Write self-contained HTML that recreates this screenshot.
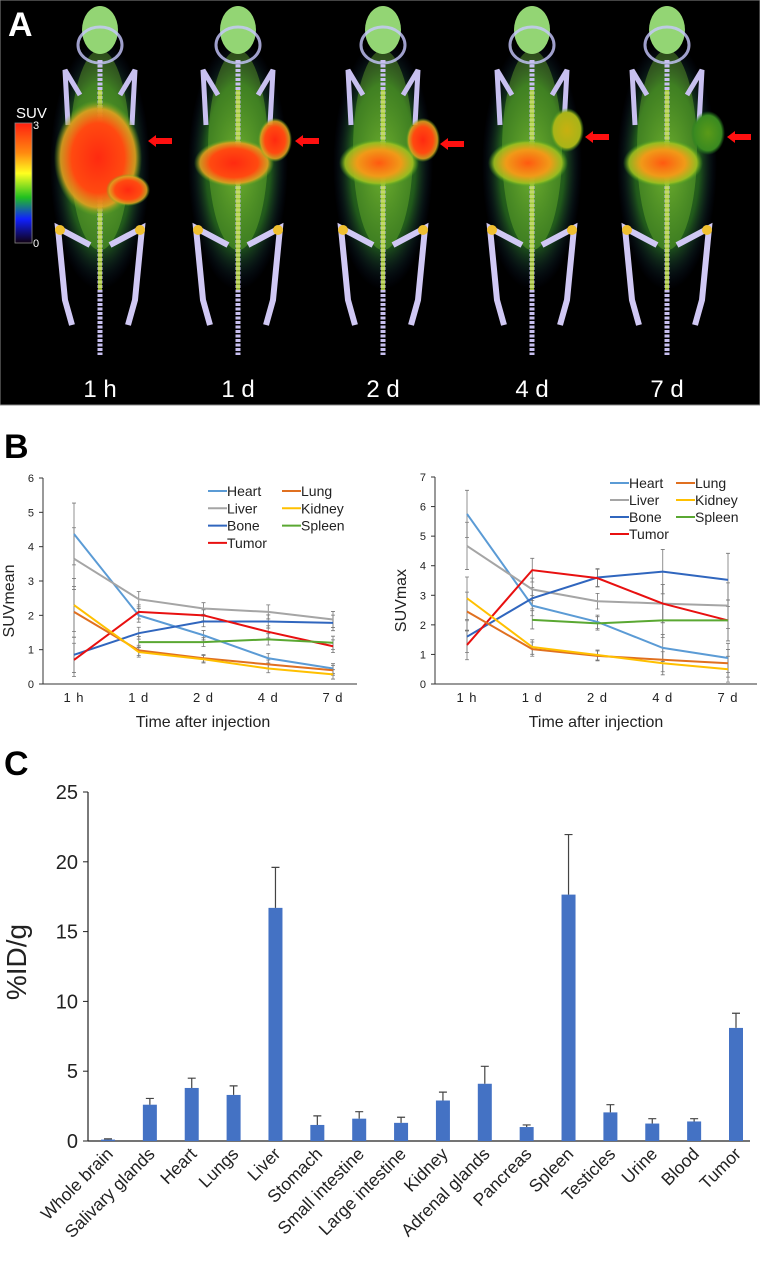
<!DOCTYPE html>
<html><head><meta charset="utf-8">
<style>
html,body{margin:0;padding:0;background:#fff;}
body{width:760px;height:1266px;overflow:hidden;font-family:"Liberation Sans",Arial,sans-serif;}
svg{display:block;}
</style></head>
<body>
<svg id="fig" width="760" height="1266" viewBox="0 0 760 1266" xmlns="http://www.w3.org/2000/svg">
<defs>
<radialGradient id="glow" cx="50%" cy="50%" r="50%"><stop offset="0" stop-color="#8fd83a" stop-opacity="0.95"/><stop offset="0.65" stop-color="#3aa030" stop-opacity="0.7"/><stop offset="1" stop-color="#10206a" stop-opacity="0"/></radialGradient>
<radialGradient id="hot" cx="50%" cy="50%" r="50%"><stop offset="0" stop-color="#ff2a10"/><stop offset="0.6" stop-color="#ff4a10"/><stop offset="0.85" stop-color="#e0a020" stop-opacity="0.9"/><stop offset="1" stop-color="#60b020" stop-opacity="0"/></radialGradient>
<radialGradient id="warm" cx="50%" cy="50%" r="50%"><stop offset="0" stop-color="#ff5a10"/><stop offset="0.55" stop-color="#f09a18"/><stop offset="0.85" stop-color="#a0c020" stop-opacity="0.9"/><stop offset="1" stop-color="#40a020" stop-opacity="0"/></radialGradient>
<radialGradient id="yel" cx="50%" cy="50%" r="50%"><stop offset="0" stop-color="#c8b010"/><stop offset="0.8" stop-color="#a8b418"/><stop offset="1" stop-color="#40a020" stop-opacity="0"/></radialGradient>
<radialGradient id="grn" cx="50%" cy="50%" r="50%"><stop offset="0" stop-color="#5a9a18"/><stop offset="0.8" stop-color="#3a8a20"/><stop offset="1" stop-color="#208020" stop-opacity="0"/></radialGradient>
<linearGradient id="cbar" x1="0" y1="0" x2="0" y2="1"><stop offset="0" stop-color="#ff2010"/><stop offset="0.25" stop-color="#ff8a10"/><stop offset="0.42" stop-color="#ffff20"/><stop offset="0.62" stop-color="#20c020"/><stop offset="0.8" stop-color="#1020ff"/><stop offset="1" stop-color="#100010"/></linearGradient>
</defs>
<g id="panelA">
<rect x="0" y="0" width="760" height="405" fill="#000" stroke="#888"/>
<g id="mice"></g>
<text x="8" y="36" font-size="34" font-weight="bold" fill="#fff">A</text>
<text x="16" y="118" font-size="15" fill="#fff">SUV</text>
<rect x="15" y="123" width="17" height="120" fill="url(#cbar)" stroke="#888" stroke-width="0.8"/>
<text x="33" y="129" font-size="11" fill="#fff">3</text>
<text x="33" y="247" font-size="11" fill="#fff">0</text>
</g>
<text x="4" y="458" font-size="34" font-weight="bold" fill="#000">B</text>
<g id="chartL"></g>
<g id="chartR"></g>
<text x="4" y="775" font-size="34" font-weight="bold" fill="#000">C</text>
<g id="chartC"></g>
</svg>
<script>
const NS="http://www.w3.org/2000/svg";
function mk(p,tag,a,txt){const e=document.createElementNS(NS,tag);for(const k in a)e.setAttribute(k,a[k]);if(txt!==undefined)e.textContent=txt;p.appendChild(e);return e;}

// ---- Panel A mice ----
const timeLabels=["1 h","1 d","2 d","4 d","7 d"];
const mouseX=[100,238,383,532,667];
const tumorState=["none","hot","hot","yel","grn"];
const mg=document.getElementById('mice');
mouseX.forEach((cx,i)=>{
  const g=mk(mg,'g',{});
  
  
  mk(g,'ellipse',{cx:cx,cy:165,rx:50,ry:125,fill:'url(#glow)',opacity:0.8});
  mk(g,'ellipse',{cx:cx,cy:150,rx:30,ry:100,fill:'#7ac830',opacity:0.35});
  mk(g,'ellipse',{cx:cx,cy:30,rx:18,ry:24,fill:'#9be07a',opacity:0.95});
  mk(g,'ellipse',{cx:cx,cy:45,rx:22,ry:18,fill:'none',stroke:'#c8c8ff',"stroke-width":3,opacity:0.8});
  mk(g,'line',{x1:cx,y1:60,x2:cx,y2:355,stroke:'#c8c0f0',"stroke-width":5,"stroke-dasharray":"3 1.5"});
  mk(g,'line',{x1:cx,y1:90,x2:cx,y2:290,stroke:'#c0e040',"stroke-width":4,opacity:0.75});
  mk(g,'path',{d:`M${cx-20},${95} L${cx-35},${70} L${cx-32},${125}`,fill:'none',stroke:'#c8c0f0',"stroke-width":5});
  mk(g,'path',{d:`M${cx+20},${95} L${cx+35},${70} L${cx+32},${125}`,fill:'none',stroke:'#c8c0f0',"stroke-width":5});
  mk(g,'path',{d:`M${cx-10},${245} L${cx-42},${228} L${cx-35},${300} L${cx-28},${325}`,fill:'none',stroke:'#d0c8f4',"stroke-width":6});
  mk(g,'path',{d:`M${cx+10},${245} L${cx+42},${228} L${cx+35},${300} L${cx+28},${325}`,fill:'none',stroke:'#d0c8f4',"stroke-width":6});
  mk(g,'circle',{cx:cx-40,cy:230,r:5,fill:'#f0c030'});
  mk(g,'circle',{cx:cx+40,cy:230,r:5,fill:'#f0c030'});
  if(i===0){
    mk(g,'ellipse',{cx:cx-2,cy:158,rx:44,ry:58,fill:'url(#hot)'});
    mk(g,'ellipse',{cx:cx+28,cy:190,rx:22,ry:16,fill:'url(#hot)'});
  }else{
    mk(g,'ellipse',{cx:cx-4,cy:163,rx:40,ry:24,fill:i===1?'url(#hot)':'url(#warm)'});
  }
  const tx=[0,275,423,567,708][i],ty=[0,140,140,130,133][i];
  if(tumorState[i]!=='none'){
    const f={hot:'url(#hot)',yel:'url(#yel)',grn:'url(#grn)'}[tumorState[i]];
    const tm=mk(g,'ellipse',{cx:tx,cy:ty,rx:17,ry:22,fill:f});
    
    
  }
  const ax=[160,307,452,597,739][i],ay=[141,141,144,137,137][i];
  const ar=mk(g,'path',{d:`M${ax-12},${ay} L${ax-4},${ay-6} L${ax-4},${ay-3} L${ax+12},${ay-3} L${ax+12},${ay+3} L${ax-4},${ay+3} L${ax-4},${ay+6} Z`,fill:'#ff1010'});
  
  
  const t=mk(g,'text',{x:cx,y:397,"font-size":24,fill:'#fff',"text-anchor":'middle'},timeLabels[i]);
  
  
});

// ---- Panel B data ----
const timepoints=["1 h","1 d","2 d","4 d","7 d"];
const seriesNames=["Heart","Liver","Bone","Tumor","Lung","Kidney","Spleen"];
const seriesColors=["#5b9bd5","#a5a5a5","#3066be","#e81010","#e07020","#ffc000","#5aa832"];
const meanHeart=[4.37,2.0,1.42,0.75,0.45];
const meanLiver=[3.65,2.47,2.2,2.1,1.88];
const meanBone=[0.85,1.48,1.82,1.82,1.78];
const meanTumor=[0.7,2.1,2.0,1.52,1.1];
const meanLung=[2.1,0.98,0.75,0.57,0.4];
const meanKidney=[2.3,0.93,0.72,0.45,0.28];
const meanSpleen=[null,1.22,1.22,1.3,1.2];
const meanErr=[0.9,0.25,0.2,0.25,0.3];
const maxHeart=[5.75,2.65,2.1,1.22,0.88];
const maxLiver=[4.67,3.2,2.8,2.72,2.65];
const maxBone=[1.6,2.9,3.6,3.8,3.52];
const maxTumor=[1.32,3.85,3.58,2.72,2.15];
const maxLung=[2.45,1.18,0.95,0.82,0.7];
const maxKidney=[2.9,1.25,0.98,0.7,0.5];
const maxSpleen=[null,2.17,2.05,2.15,2.15];
const maxErr=[0.8,0.4,0.3,0.75,0.9];
const meanTicks=[0,1,2,3,4,5,6];
const maxTicks=[0,1,2,3,4,5,6,7];

function lineChart(id,cfg){
  const g=document.getElementById(id);
  const yS=v=>cfg.y0-(v/cfg.ymax)*(cfg.y0-cfg.y1);
  const xS=i=>cfg.xs+i*(cfg.xe-cfg.xs)/(timepoints.length-1);
  mk(g,'line',{x1:cfg.ax,y1:cfg.y1,x2:cfg.ax,y2:cfg.y0,stroke:'#333',"stroke-width":1});
  mk(g,'line',{x1:cfg.ax,y1:cfg.y0,x2:cfg.aend,y2:cfg.y0,stroke:'#333',"stroke-width":1});
  cfg.ticks.forEach(t=>{
    const y=yS(t);
    mk(g,'line',{x1:cfg.ax-4,y1:y,x2:cfg.ax,y2:y,stroke:'#333'});
    const e=mk(g,'text',{x:cfg.ax-9,y:y+4,"font-size":11,"text-anchor":'end',fill:'#222'},t);
    
    
  });
  timepoints.forEach((t,i)=>{
    const e=mk(g,'text',{x:xS(i),y:cfg.y0+18,"font-size":13,"text-anchor":'middle',fill:'#222',"letter-spacing":1},t);
    
    
  });
  const xt=mk(g,'text',{x:cfg.tc,y:cfg.y0+43,"font-size":16,"text-anchor":'middle',fill:'#222'},'Time after injection');
  
  
  const cy=(cfg.y0+cfg.y1)/2+20;
  const yt=mk(g,'text',{x:cfg.yl,y:cy,"font-size":16,"text-anchor":'middle',fill:'#222',transform:`rotate(-90 ${cfg.yl} ${cy})`},cfg.ylabel);
  
  
  cfg.data.forEach((arr,si)=>{
    arr.forEach((v,i)=>{
      if(v===null)return;
      const e=cfg.err[i]*(0.4+0.6*Math.min(1,v/cfg.ymax*2));
      const x=xS(i);
      const eb=mk(g,'path',{d:`M${x},${yS(v-e)} V${yS(v+e)} M${x-2},${yS(v-e)} H${x+2} M${x-2},${yS(v+e)} H${x+2}`,stroke:'#777',"stroke-width":0.8,fill:'none'});
      
      
    });
  });
  cfg.data.forEach((arr,si)=>{
    let d='';
    arr.forEach((v,i)=>{if(v===null)return;d+=(d?'L':'M')+xS(i)+','+yS(v);});
    const p=mk(g,'path',{d:d,stroke:seriesColors[si],"stroke-width":2,fill:'none'});
    
    
  });
  const rowOf=[0,1,2,3,0,1,2];
  seriesNames.forEach((n,si)=>{
    const col=si<4?0:1,row=rowOf[si];
    const lx=cfg.lx[col],ly=cfg.ly+row*cfg.lrow;
    const lg=mk(g,'g',{});
    
    
    mk(lg,'line',{x1:lx,y1:ly,x2:lx+19,y2:ly,stroke:seriesColors[si],"stroke-width":2});
    mk(lg,'text',{x:lx+19,y:ly+5,"font-size":14,fill:'#222'},n);
  });
}
lineChart('chartL',{ax:43,aend:357,y0:684,y1:478,ymax:6,xs:74,xe:333,ticks:meanTicks,tc:203,yl:14,ylabel:'SUVmean',
  data:[meanHeart,meanLiver,meanBone,meanTumor,meanLung,meanKidney,meanSpleen],err:meanErr,lx:[208,282],ly:491,lrow:17.3});
lineChart('chartR',{ax:435,aend:757,y0:684,y1:477,ymax:7,xs:467,xe:728,ticks:maxTicks,tc:596,yl:406,ylabel:'SUVmax',
  data:[maxHeart,maxLiver,maxBone,maxTumor,maxLung,maxKidney,maxSpleen],err:maxErr,lx:[610,676],ly:483,lrow:17});

// ---- Panel C ----
const organs=["Whole brain","Salivary glands","Heart","Lungs","Liver","Stomach","Small intestine","Large intestine","Kidney","Adrenal glands","Pancreas","Spleen","Testicles","Urine","Blood","Tumor"];
const idValues=[0.1,2.6,3.8,3.3,16.7,1.15,1.6,1.3,2.9,4.1,1.0,17.65,2.05,1.25,1.4,8.1];
const idErrors=[0.05,0.45,0.7,0.65,2.9,0.65,0.5,0.4,0.6,1.25,0.15,4.3,0.55,0.35,0.2,1.05];
const idTicks=[0,5,10,15,20,25];
(function(){
  const g=document.getElementById('chartC');
  const ax=88,aend=750,y0=1141,y1=792,ymax=25;
  const yS=v=>y0-(v/ymax)*(y0-y1);
  const x0=108,step=(736-108)/(organs.length-1),bw=14;
  mk(g,'line',{x1:ax,y1:y1,x2:ax,y2:y0,stroke:'#222',"stroke-width":1.2});
  mk(g,'line',{x1:ax,y1:y0,x2:aend,y2:y0,stroke:'#222',"stroke-width":1.2});
  idTicks.forEach(t=>{
    const y=yS(t);
    mk(g,'line',{x1:ax-5,y1:y,x2:ax,y2:y,stroke:'#222'});
    const e=mk(g,'text',{x:ax-10,y:y+7,"font-size":20,"text-anchor":'end',fill:'#222'},t);
    
    
  });
  const yt=mk(g,'text',{x:26,y:962,"font-size":28,"text-anchor":'middle',fill:'#222',transform:'rotate(-90 26 962)'},'%ID/g');
  
  
  organs.forEach((o,i)=>{
    const cx=x0+i*step,v=idValues[i],e=idErrors[i];
    const r=mk(g,'rect',{x:cx-bw/2,y:yS(v),width:bw,height:y0-yS(v),fill:'#4472c4'});
    
    
    const eb=mk(g,'path',{d:`M${cx},${yS(v)} V${yS(v+e)} M${cx-4},${yS(v+e)} H${cx+4}`,stroke:'#444',"stroke-width":1.2,fill:'none'});
    
    
    const lx=cx+6,ly=y0+14;
    const t=mk(g,'text',{x:lx,y:ly,"font-size":17.5,"text-anchor":'end',fill:'#222',transform:`rotate(-45 ${lx} ${ly})`},o);
    
    
  });
})();
</script>
</body></html>
